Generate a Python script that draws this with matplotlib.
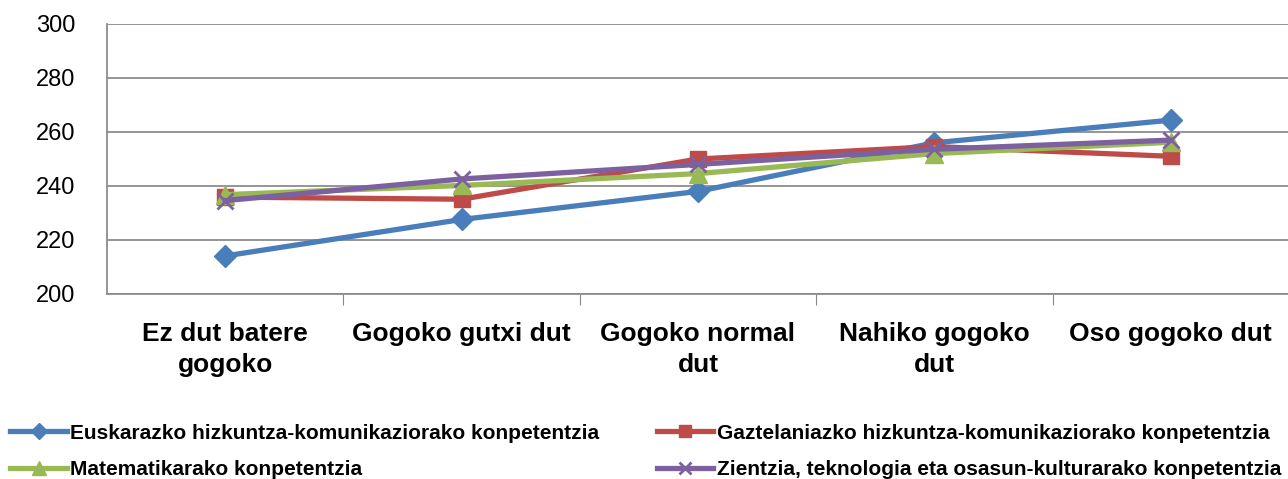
import matplotlib.pyplot as plt

plt.rcParams['font.family'] = ['Liberation Sans', 'DejaVu Sans']

# Datuak
kategoriak = ['Ez dut batere\ngogoko', 'Gogoko gutxi dut', 'Gogoko normal\ndut',
              'Nahiko gogoko\ndut', 'Oso gogoko dut']
euskara = [214.1, 227.6, 238.0, 256.0, 264.4]
gaztelania = [235.9, 235.1, 250.0, 254.6, 251.0]
matematika = [236.8, 240.2, 244.6, 252.0, 256.2]
zientzia = [234.6, 242.6, 248.0, 253.6, 257.0]

serieak = [
    ('Euskarazko hizkuntza-komunikaziorako konpetentzia', euskara, '#4A7EBB', 'D', 11),
    ('Gaztelaniazko hizkuntza-komunikaziorako konpetentzia', gaztelania, '#BE4B48', 's', 12),
    ('Matematikarako konpetentzia', matematika, '#98B954', '^', 13),
    ('Zientzia, teknologia eta osasun-kulturarako konpetentzia', zientzia, '#7D60A0', 'x', 12),
]

fig = plt.figure(figsize=(12.88, 4.79), dpi=100)
ax = fig.add_axes([107 / 1288, 185 / 479, 1182 / 1288, 270 / 479])

x = list(range(len(kategoriak)))
lerroak = []
for izena, balioak, kolorea, markerra, tamaina in serieak:
    l, = ax.plot(x, balioak, color=kolorea, linewidth=3.8, marker=markerra, markersize=tamaina,
                 markeredgewidth=2 if markerra == 'x' else 1, label=izena)
    lerroak.append(l)

ax.set_xlim(-0.5, len(kategoriak) - 0.5)
ax.set_ylim(200, 300)
ax.set_yticks(range(200, 301, 20))
ax.tick_params(axis='y', labelsize=17, length=0, pad=23)
ax.set_xticks([i + 0.5 for i in range(len(kategoriak) - 1)])
ax.set_xticklabels([])
ax.tick_params(axis='x', length=8, color='#888888', direction='out')
ax.set_xticks(x, minor=True)
ax.set_xticklabels(kategoriak, minor=True, fontsize=19, fontweight='bold', linespacing=1.4)
ax.tick_params(axis='x', which='minor', length=0, pad=20)

ax.grid(axis='y', color='#8C8C8C', linewidth=1.3)
ax.set_axisbelow(True)
for side in ['top', 'right']:
    ax.spines[side].set_visible(False)
ax.spines['left'].set_color('#8C8C8C')
ax.spines['bottom'].set_color('#8C8C8C')
ax.spines['left'].set_linewidth(1.3)
ax.spines['bottom'].set_linewidth(1.3)

# legenda: lerroka ordenatua (matplotlib-ek zutabeka betetzen du)
ordena = [lerroak[0], lerroak[2], lerroak[1], lerroak[3]]
fig.legend(handles=ordena, loc='lower left', bbox_to_anchor=(-0.0065, -0.04), ncol=2, frameon=False,
           prop={'size': 15, 'weight': 'bold'}, handlelength=2.7, handletextpad=0.15,
           columnspacing=2.8, labelspacing=0.85, markerscale=0.75)

fig.savefig('out.png', dpi=100)
